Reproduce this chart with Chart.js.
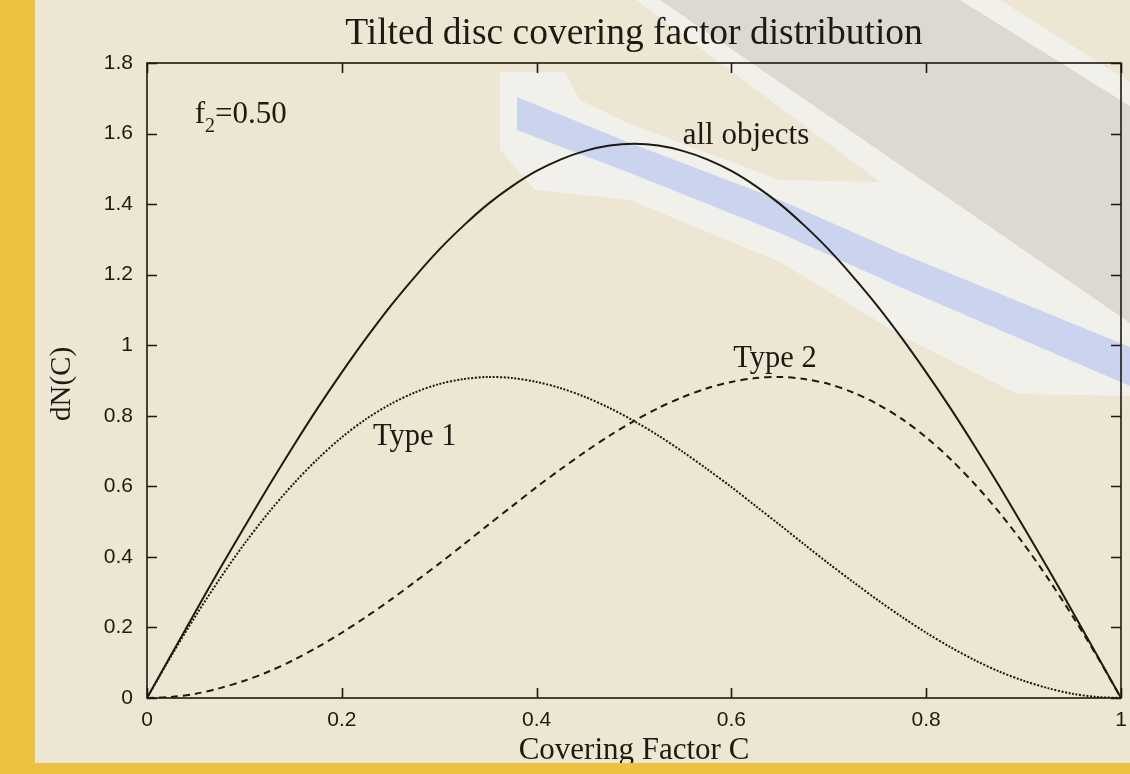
<!DOCTYPE html>
<html>
<head>
<meta charset="utf-8">
<script src="https://cdn.jsdelivr.net/npm/chart.js@4.4.1/dist/chart.umd.min.js"></script>
<style>
  html, body { margin: 0; padding: 0; background: #ECE6D3; }
  canvas { display: block; }
</style>
</head>
<body>
<canvas id="chart" width="1130" height="774"></canvas>
<script>
// Covering factor C sampled on a regular grid
const coverC = [0, 0.025, 0.05, 0.075, 0.1, 0.125, 0.15, 0.175, 0.2, 0.225, 0.25, 0.275, 0.3, 0.325, 0.35, 0.375, 0.4, 0.425, 0.45, 0.475, 0.5,
                0.525, 0.55, 0.575, 0.6, 0.625, 0.65, 0.675, 0.7, 0.725, 0.75, 0.775, 0.8, 0.825, 0.85, 0.875, 0.9, 0.925, 0.95, 0.975, 1];

// dN(C) for all objects
const allObjects = [0, 0.123, 0.246, 0.367, 0.485, 0.601, 0.713, 0.821, 0.923, 1.020, 1.111, 1.194, 1.271, 1.339, 1.400, 1.451, 1.494, 1.527, 1.551, 1.566, 1.571,
                    1.566, 1.551, 1.527, 1.494, 1.451, 1.400, 1.339, 1.271, 1.194, 1.111, 1.020, 0.923, 0.821, 0.713, 0.601, 0.485, 0.367, 0.246, 0.123, 0];

// dN(C) for Type 1 objects
const type1 = [0, 0.120, 0.233, 0.339, 0.437, 0.526, 0.606, 0.677, 0.739, 0.791, 0.833, 0.866, 0.890, 0.904, 0.910, 0.907, 0.896, 0.878, 0.853, 0.822, 0.785,
               0.744, 0.698, 0.649, 0.598, 0.544, 0.490, 0.435, 0.381, 0.329, 0.278, 0.230, 0.185, 0.144, 0.107, 0.075, 0.049, 0.028, 0.012, 0.003, 0];

// dN(C) for Type 2 objects
const type2 = [0, 0.003, 0.012, 0.028, 0.049, 0.075, 0.107, 0.144, 0.185, 0.230, 0.278, 0.329, 0.381, 0.435, 0.490, 0.544, 0.598, 0.649, 0.698, 0.744, 0.785,
               0.822, 0.853, 0.878, 0.896, 0.907, 0.910, 0.904, 0.890, 0.866, 0.833, 0.791, 0.739, 0.677, 0.606, 0.526, 0.437, 0.339, 0.233, 0.120, 0];

// Axis tick labels
const xTickLabels = ['0', '0.2', '0.4', '0.6', '0.8', '1'];
const yTickLabels = ['0', '0.2', '0.4', '0.6', '0.8', '1', '1.2', '1.4', '1.6', '1.8'];

const INK = '#1d1a12';
const SERIF = '"Liberation Serif", "Times New Roman", serif';
const SANS = '"Liberation Sans", Arial, sans-serif';

const toPoints = ys => coverC.map((c, i) => ({ x: c, y: ys[i] }));

function tracePoly(ctx, pts) {
  ctx.moveTo(pts[0][0], pts[0][1]);
  for (let i = 1; i < pts.length; i++) ctx.lineTo(pts[i][0], pts[i][1]);
  ctx.closePath();
}

function poly(ctx, pts, color) {
  ctx.beginPath();
  tracePoly(ctx, pts);
  ctx.fillStyle = color;
  ctx.fill();
}

// Page backdrop: beige sheet with the faded diagonal bands behind the plot
const backdrop = {
  id: 'backdrop',
  beforeDraw(chart) {
    const ctx = chart.ctx;
    ctx.save();
    ctx.fillStyle = '#ECE6D3';
    ctx.fillRect(0, 0, chart.width, chart.height);

    // pale rims round both bands, filled as one path so overlaps stay even
    ctx.beginPath();
    tracePoly(ctx, [[636, 0], [1000, 0], [1130, 82], [1130, 330], [880, 182]]);
    tracePoly(ctx, [[500, 72], [565, 72], [580, 100], [630, 124], [780, 180], [880, 182],
                    [1130, 330], [1130, 396], [1017, 394], [900, 335], [780, 262],
                    [630, 200], [535, 190], [500, 150]]);
    ctx.fillStyle = 'rgba(243,244,243,0.72)';
    ctx.fill('nonzero');

    // grey band
    poly(ctx, [[660, 0], [960, 0], [1130, 106], [1130, 323]], '#DBD9D0');

    // blue stripe
    poly(ctx, [[517, 97], [630, 143], [780, 200], [900, 253], [1130, 347],
               [1130, 386], [900, 287], [780, 233], [630, 173], [517, 130]], '#CBD4EE');
    ctx.restore();
  }
};

// Plot frame, inward ticks, titles, curve annotations and the page edging
const frame = {
  id: 'frame',
  afterDatasetsDraw(chart) {
    const { ctx, chartArea: a, scales: { x, y } } = chart;
    ctx.save();
    ctx.strokeStyle = INK;
    ctx.lineWidth = 1.6;
    ctx.strokeRect(a.left, a.top, a.right - a.left, a.bottom - a.top);

    const tick = 10;
    ctx.beginPath();
    x.ticks.forEach(t => {
      const px = Math.round(x.getPixelForValue(t.value)) + 0.5;
      ctx.moveTo(px, a.bottom); ctx.lineTo(px, a.bottom - tick);
      ctx.moveTo(px, a.top); ctx.lineTo(px, a.top + tick);
    });
    y.ticks.forEach(t => {
      const py = Math.round(y.getPixelForValue(t.value)) + 0.5;
      ctx.moveTo(a.left, py); ctx.lineTo(a.left + tick, py);
      ctx.moveTo(a.right, py); ctx.lineTo(a.right - tick, py);
    });
    ctx.stroke();

    ctx.fillStyle = INK;
    const cx = (a.left + a.right) / 2;

    // title
    ctx.font = `37.5px ${SERIF}`;
    ctx.textAlign = 'center';
    ctx.textBaseline = 'alphabetic';
    ctx.fillText('Tilted disc covering factor distribution', cx, 44);

    // x axis title
    ctx.font = `31px ${SERIF}`;
    ctx.fillText('Covering Factor C', cx, 759);

    // y axis title
    ctx.save();
    ctx.translate(70, 384);
    ctx.rotate(-Math.PI / 2);
    ctx.font = `29px ${SERIF}`;
    ctx.fillText('dN(C)', 0, 0);
    ctx.restore();

    // curve annotations
    ctx.textAlign = 'left';
    ctx.font = `31px ${SERIF}`;
    const label = (text, c, v) => ctx.fillText(text, x.getPixelForValue(c), y.getPixelForValue(v));
    label('all objects', 0.550, 1.570);
    ctx.font = `30.5px ${SERIF}`;
    label('Type 1', 0.232, 0.717);
    label('Type 2', 0.602, 0.938);

    // f2 = 0.50 with subscript
    ctx.font = `31px ${SERIF}`;
    let fx = x.getPixelForValue(0.049);
    const fy = y.getPixelForValue(1.63);
    ctx.fillText('f', fx, fy);
    fx += ctx.measureText('f').width;
    ctx.font = `20px ${SERIF}`;
    ctx.fillText('2', fx, fy + 9);
    fx += ctx.measureText('2').width;
    ctx.font = `31px ${SERIF}`;
    ctx.fillText('=0.50', fx, fy);
    ctx.restore();
  },
  afterDraw(chart) {
    const ctx = chart.ctx;
    ctx.save();
    ctx.fillStyle = '#ECC23E';
    ctx.fillRect(0, 0, 35, chart.height);
    ctx.fillRect(0, 763, chart.width, chart.height - 763);
    ctx.restore();
  }
};

new Chart(document.getElementById('chart'), {
  type: 'line',
  data: {
    datasets: [
      {
        label: 'all objects',
        data: toPoints(allObjects),
        borderColor: INK,
        borderWidth: 2,
        pointRadius: 0,
        tension: 0.3
      },
      {
        label: 'Type 1',
        data: toPoints(type1),
        borderColor: INK,
        borderWidth: 2,
        borderDash: [2, 1.6],
        pointRadius: 0,
        tension: 0.3
      },
      {
        label: 'Type 2',
        data: toPoints(type2),
        borderColor: INK,
        borderWidth: 2,
        borderDash: [7, 5],
        pointRadius: 0,
        tension: 0.3
      }
    ]
  },
  options: {
    responsive: false,
    animation: false,
    events: [],
    layout: { padding: { top: 63, right: 9, left: 0, bottom: 0 } },
    plugins: {
      legend: { display: false },
      title: { display: false },
      tooltip: { enabled: false }
    },
    scales: {
      x: {
        type: 'linear',
        min: 0,
        max: 1,
        afterFit(s) { s.height = 76; s.paddingLeft = 0; s.paddingRight = 0; },
        grid: { display: false, drawTicks: false },
        border: { display: false },
        ticks: {
          stepSize: 0.2,
          padding: 10,
          color: INK,
          font: { family: SANS, size: 21 },
          maxRotation: 0,
          callback: (v, i) => xTickLabels[i]
        }
      },
      y: {
        type: 'linear',
        min: 0,
        max: 1.8,
        afterFit(s) { s.width = 147; s.paddingTop = 0; s.paddingBottom = 0; },
        grid: { display: false, drawTicks: false },
        border: { display: false },
        ticks: {
          stepSize: 0.2,
          padding: 14,
          color: INK,
          font: { family: SANS, size: 21 },
          callback: (v, i) => yTickLabels[i]
        }
      }
    }
  },
  plugins: [backdrop, frame]
});
</script>
</body>
</html>
